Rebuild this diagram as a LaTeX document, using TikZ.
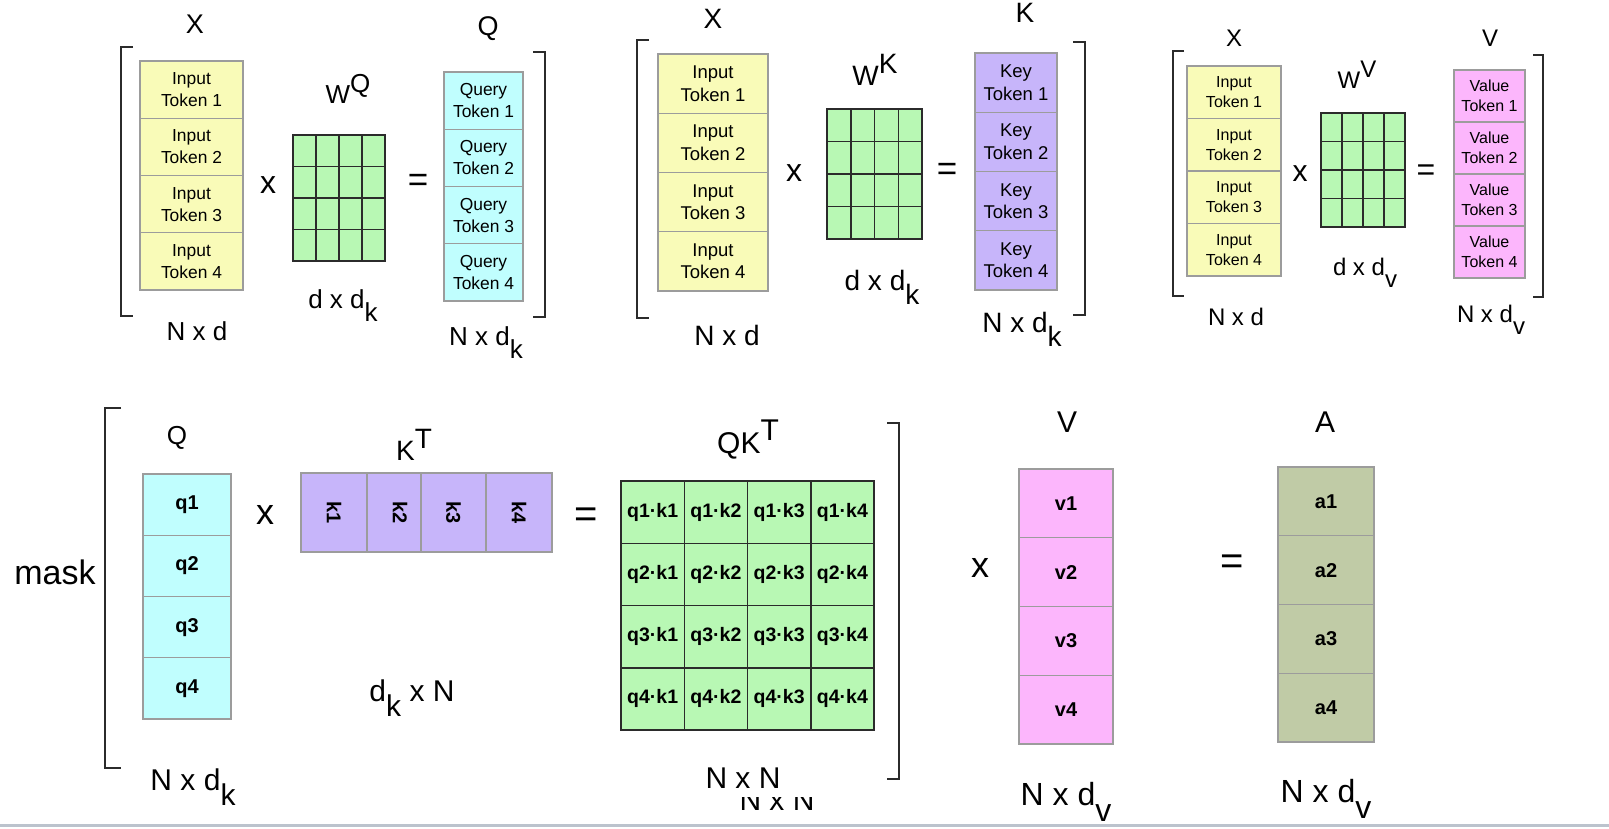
\documentclass[tikz,border=0pt]{standalone}
\usepackage{fontspec}
\setmainfont{Liberation Sans}
\usetikzlibrary{positioning}
\definecolor{yel}{HTML}{F9FBB8}
\definecolor{cyn}{HTML}{C0FEFE}
\definecolor{grn}{HTML}{B8F8B4}
\definecolor{lav}{HTML}{C7B5FA}
\definecolor{pnk}{HTML}{FCB6FC}
\definecolor{olv}{HTML}{C0CBA6}
\definecolor{edge}{HTML}{9C9C9C}
\definecolor{ink}{HTML}{2B2B2B}
\definecolor{rul}{HTML}{BCC3CD}
\newcommand\fsz[2]{\fontsize{#1}{#2}\selectfont}
\newcommand\upr[1]{\raisebox{0.42em}{#1}}
\newcommand\lowr[1]{\raisebox{-0.5em}{#1}}
\tikzset{
  tok/.style={draw=edge,line width=1.4pt,inner sep=0pt,outer sep=0pt,align=center},
  tka/.style={tok,minimum width=103,minimum height=57.25,font=\fsz{17.4}{22}},
  tqa/.style={tok,minimum width=79,minimum height=57.25,font=\fsz{17.4}{22}},
  tkb/.style={tok,minimum width=110,minimum height=59.25,font=\fsz{18.5}{22.5}},
  tqb/.style={tok,minimum width=82,minimum height=59.25,font=\fsz{18.5}{22.5}},
  tkc/.style={tok,minimum width=94,minimum height=52.5,font=\fsz{16}{20}},
  tqc/.style={tok,minimum width=71,minimum height=52,font=\fsz{16}{20}},
  vec/.style={tok,font=\fsz{20}{24}\bfseries},
  wcell/.style={draw=ink,fill=grn,line width=1.5pt,inner sep=0pt,outer sep=0pt},
  qkcell/.style={wcell,minimum width=63.25,minimum height=62.25,font=\fsz{19.5}{23}\bfseries},
  lab/.style={inner sep=0pt,anchor=base},
  op/.style={inner sep=0pt},
  brk/.style={draw=ink,line width=2.2pt},
}
\begin{document}
\begin{tikzpicture}[x=1pt,y=-1pt]
\useasboundingbox (0,0) rectangle (1609,828);

% Q = X W^Q
\node[lab,font=\fsz{27}{30}] (xl1) at (195,33) {X};
\node[tka,fill=yel,anchor=north] (xa1) at (191.5,61) {Input\\Token 1};
\foreach \i/\j in {2/1,3/2,4/3}
  \node[tka,fill=yel,below=0pt of xa\j] (xa\i) {Input\\Token \i};
\node[op,font=\fsz{32}{36}] (opa1) at (268,185) {x};
\node[lab,font=\fsz{26}{30}] (wl1) at (348,103) {W\upr{Q}};
\foreach \r in {1,...,4}
  \foreach \c in {1,...,4}
    \node[wcell,minimum width=23,minimum height=31.5] (wq-\r-\c) at ({293+23*(\c-0.5)},{135+31.5*(\r-0.5)}) {};
\node[op,font=\fsz{35}{40}] (opa2) at (418,183) {=};
\node[lab,font=\fsz{27}{30}] (ql1) at (488,35) {Q};
\node[tqa,fill=cyn,anchor=north] (qa1) at (483.5,72) {Query\\Token 1};
\foreach \i/\j in {2/1,3/2,4/3}
  \node[tqa,fill=cyn,below=0pt of qa\j] (qa\i) {Query\\Token \i};
\node[lab,font=\fsz{26}{30}] (dl1) at (343,308) {d x d\lowr{k}};
\node[lab,font=\fsz{26}{30}] (nl1) at (197,340) {N x d};
\node[lab,font=\fsz{26}{30}] (nr1) at (486,345) {N x d\lowr{k}};
\draw[brk] (133,47) -- (121,47) -- (121,316) -- (133,316);
\draw[brk] (533,52) -- (545,52) -- (545,317) -- (533,317);

% K = X W^K
\node[lab,font=\fsz{28}{32}] (xl2) at (713,28) {X};
\node[tkb,fill=yel,anchor=north] (xb1) at (713,54) {Input\\Token 1};
\foreach \i/\j in {2/1,3/2,4/3}
  \node[tkb,fill=yel,below=0pt of xb\j] (xb\i) {Input\\Token \i};
\node[op,font=\fsz{32}{36}] (opb1) at (794,173) {x};
\node[lab,font=\fsz{28}{32}] (wl2) at (875,85) {W\upr{K}};
\foreach \r in {1,...,4}
  \foreach \c in {1,...,4}
    \node[wcell,minimum width=23.75,minimum height=32.5] (wk-\r-\c) at ({827+23.75*(\c-0.5)},{109+32.5*(\r-0.5)}) {};
\node[op,font=\fsz{35}{40}] (opb2) at (947,172) {=};
\node[lab,font=\fsz{28}{32}] (kl2) at (1025,22) {K};
\node[tqb,fill=lav,anchor=north] (kb1) at (1016,53) {Key\\Token 1};
\foreach \i/\j in {2/1,3/2,4/3}
  \node[tqb,fill=lav,below=0pt of kb\j] (kb\i) {Key\\Token \i};
\node[lab,font=\fsz{28}{32}] (dl2) at (882,290) {d x d\lowr{k}};
\node[lab,font=\fsz{28}{32}] (nl2) at (727,345) {N x d};
\node[lab,font=\fsz{28}{32}] (nr2) at (1022,332) {N x d\lowr{k}};
\draw[brk] (649,40) -- (637,40) -- (637,318) -- (649,318);
\draw[brk] (1073,42) -- (1085,42) -- (1085,315) -- (1073,315);

% V = X W^V
\node[lab,font=\fsz{24}{28}] (xl3) at (1234,46) {X};
\node[tkc,fill=yel,anchor=north] (xc1) at (1234,66) {Input\\Token 1};
\foreach \i/\j in {2/1,3/2,4/3}
  \node[tkc,fill=yel,below=0pt of xc\j] (xc\i) {Input\\Token \i};
\node[op,font=\fsz{30}{34}] (opc1) at (1300,174) {x};
\node[lab,font=\fsz{24}{28}] (wl3) at (1357,88) {W\upr{V}};
\foreach \r in {1,...,4}
  \foreach \c in {1,...,4}
    \node[wcell,minimum width=21,minimum height=28.5] (wv-\r-\c) at ({1321+21*(\c-0.5)},{113+28.5*(\r-0.5)}) {};
\node[op,font=\fsz{32}{36}] (opc2) at (1426,173) {=};
\node[lab,font=\fsz{24}{28}] (vl3) at (1490,46) {V};
\node[tqc,fill=pnk,anchor=north] (vc1) at (1489.5,70) {Value\\Token 1};
\foreach \i/\j in {2/1,3/2,4/3}
  \node[tqc,fill=pnk,below=0pt of vc\j] (vc\i) {Value\\Token \i};
\node[lab,font=\fsz{24}{28}] (dl3) at (1365,275) {d x d\lowr{v}};
\node[lab,font=\fsz{24}{28}] (nl3) at (1236,325) {N x d};
\node[lab,font=\fsz{24}{28}] (nr3) at (1491,322) {N x d\lowr{v}};
\draw[brk] (1184,51) -- (1173,51) -- (1173,296) -- (1184,296);
\draw[brk] (1533,55) -- (1543,55) -- (1543,297) -- (1533,297);

% mask(Q K^T) V = A
\node[lab,font=\fsz{34}{38}] (mask) at (55,584) {mask};
\node[lab,font=\fsz{26}{30}] (qlb) at (177,444) {Q};
\node[vec,fill=cyn,minimum width=88,minimum height=61.25,anchor=north] (q1) at (187,474) {q1};
\foreach \i/\j in {2/1,3/2,4/3}
  \node[vec,fill=cyn,minimum width=88,minimum height=61.25,below=0pt of q\j] (q\i) {q\i};
\node[op,font=\fsz{36}{40}] (opd1) at (265,515) {x};
\node[lab,font=\fsz{28}{32}] (ktl) at (414,460) {K\upr{T}};
\foreach \n/\x/\w in {1/334/66,2/400/66,3/453.5/65,4/519/66}
  \node[vec,fill=lav,minimum width=\w,minimum height=79] (k\n) at (\x,512.5) {\rotatebox{-90}{k\n}};
\node[lab,font=\fsz{30}{34}] (dkn) at (412,701) {d\lowr{k} x N};
\node[lab,font=\fsz{30}{34}] (nqb) at (193,790) {N x d\lowr{k}};
\node[op,font=\fsz{40}{44}] (opd2) at (586,518) {=};
\node[lab,font=\fsz{30}{34}] (qkl) at (748,453) {QK\upr{T}};
\foreach \r in {1,...,4}
  \foreach \c in {1,...,4}
    \node[qkcell] (qk-\r-\c) at ({621+63.25*(\c-0.5)},{481+62.25*(\r-0.5)}) {q\r·k\c};
\node[lab,font=\fsz{30}{34}] (nn) at (743,788) {N x N};
\begin{scope}
  \clip (690,797) rectangle (860,828);
  \node[lab,font=\fsz{30}{34}] (nnb) at (777,810) {N x N};
\end{scope}
\draw[brk] (121,408) -- (105,408) -- (105,768) -- (121,768);
\draw[brk] (887,423) -- (899,423) -- (899,779) -- (887,779);
\node[op,font=\fsz{36}{40}] (ope1) at (980,568) {x};
\node[lab,font=\fsz{30}{34}] (vlb) at (1067,432) {V};
\node[vec,fill=pnk,minimum width=94,minimum height=68.75,anchor=north] (v1) at (1066,469) {v1};
\foreach \i/\j in {2/1,3/2,4/3}
  \node[vec,fill=pnk,minimum width=94,minimum height=68.75,below=0pt of v\j] (v\i) {v\i};
\node[lab,font=\fsz{32}{36}] (nvb) at (1066,805) {N x d\lowr{v}};
\node[op,font=\fsz{40}{44}] (ope2) at (1232,565) {=};
\node[lab,font=\fsz{30}{34}] (alb) at (1325,432) {A};
\node[vec,fill=olv,minimum width=96,minimum height=68.75,anchor=north] (a1) at (1326,467) {a1};
\foreach \i/\j in {2/1,3/2,4/3}
  \node[vec,fill=olv,minimum width=96,minimum height=68.75,below=0pt of a\j] (a\i) {a\i};
\node[lab,font=\fsz{32}{36}] (nab) at (1326,802) {N x d\lowr{v}};
\draw[rul,line width=3pt] (0,825) -- (1609,825);
\end{tikzpicture}
\end{document}
